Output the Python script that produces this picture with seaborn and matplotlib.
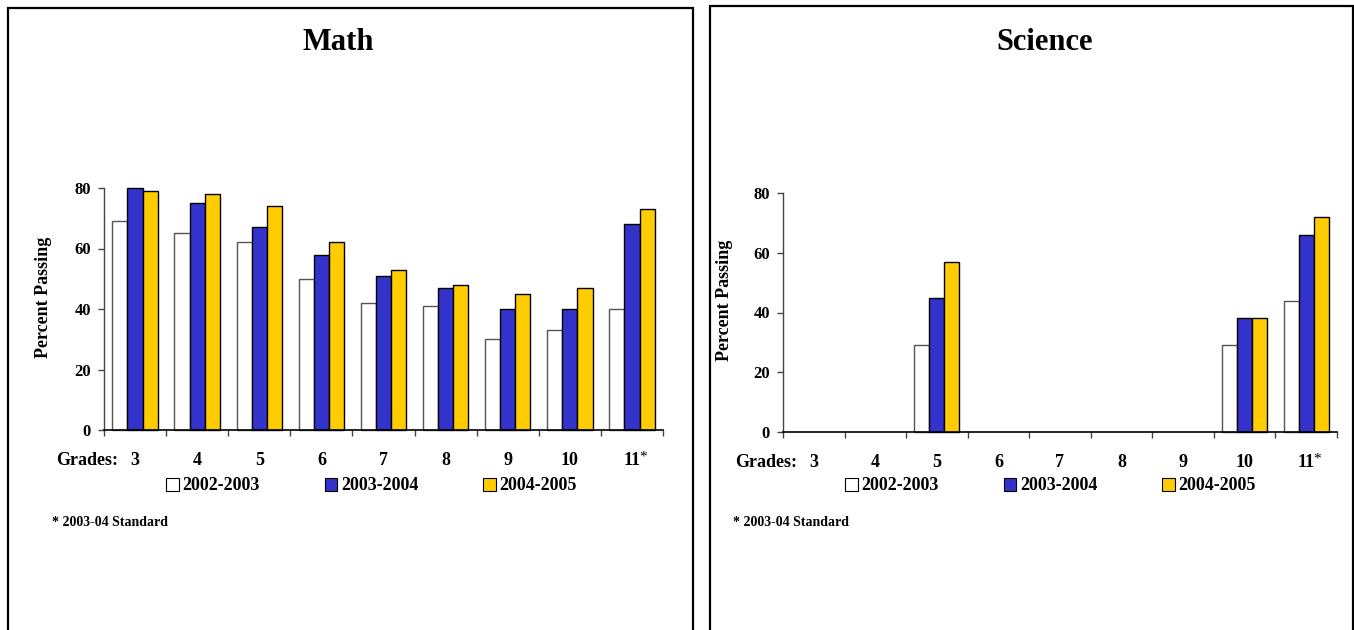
import numpy as np
import pandas as pd
import matplotlib
matplotlib.use("Agg")
import matplotlib.pyplot as plt
from matplotlib.patches import Rectangle, Patch
from matplotlib.transforms import ScaledTranslation
import seaborn as sns

# ---- data ----
grades = ["3", "4", "5", "6", "7", "8", "9", "10", "11"]
starred_grade = "11"
years = ["2002-2003", "2003-2004", "2004-2005"]
year_colors = ["#FFFFFF", "#3333CC", "#FFCC00"]

math_2002_03 = [69, 65, 62, 50, 42, 41, 30, 33, 40]
math_2003_04 = [80, 75, 67, 58, 51, 47, 40, 40, 68]
math_2004_05 = [79, 78, 74, 62, 53, 48, 45, 47, 73]

nan = np.nan
sci_2002_03 = [nan, nan, 29, nan, nan, nan, nan, 29, 44]
sci_2003_04 = [nan, nan, 45, nan, nan, nan, nan, 38, 66]
sci_2004_05 = [nan, nan, 57, nan, nan, nan, nan, 38, 72]

y_ticks = [0, 20, 40, 60, 80]
footnote = "* 2003-04 Standard"


def long_frame(series):
    rows = []
    for year, vals in zip(years, series):
        for g, v in zip(grades, vals):
            rows.append({"grade": g, "year": year, "pct": v})
    return pd.DataFrame(rows)


math_df = long_frame([math_2002_03, math_2003_04, math_2004_05])
sci_df = long_frame([sci_2002_03, sci_2003_04, sci_2004_05])

# ---- style ----
sns.set_style("white")
plt.rcParams["font.family"] = ["Liberation Serif", "DejaVu Serif"]
plt.rcParams["font.weight"] = "bold"
for key in ("text.color", "axes.labelcolor", "xtick.color", "ytick.color"):
    plt.rcParams[key] = "black"

W, H = 1354, 630
fig = plt.figure(figsize=(W / 100, H / 100), dpi=100)
fig.patch.set_facecolor("white")

TICK_PAD = 16


def px_rect(x0, y_top, x1, y_bottom):
    return [x0 / W, 1 - y_bottom / H, (x1 - x0) / W, (y_bottom - y_top) / H]


def draw_panel(df, axes_px, title, title_x, legend_x, foot_x, ylabel_x):
    ax = fig.add_axes(px_rect(*axes_px))
    sns.barplot(data=df, x="grade", y="pct", hue="year", order=grades,
                hue_order=years, palette=year_colors, saturation=1,
                width=0.73, gap=0, errorbar=None, edgecolor="black",
                linewidth=1.0, legend=False, ax=ax)
    for bar in ax.containers[0]:
        bar.set_edgecolor("#555555")
    for p in ax.patches:
        p.set_clip_on(False)

    ax.set_xlim(-0.5, len(grades) - 0.5)
    ax.set_ylim(0, 80)
    ax.set_yticks(y_ticks)
    ax.set_xticks(range(len(grades)))
    ax.set_xticklabels(grades, fontsize=13, fontweight="bold")
    ax.set_xticks(np.arange(-0.5, len(grades), 1.0), minor=True)
    ax.tick_params(axis="x", which="major", length=0, pad=TICK_PAD)
    ax.tick_params(axis="x", which="minor", bottom=True, length=4.5,
                   width=1, color="#444444", direction="out")
    ax.tick_params(axis="y", which="major", left=True, length=4.5, width=1,
                   color="#444444", direction="out", pad=5, labelsize=12)
    for lab in ax.get_yticklabels():
        lab.set_fontweight("bold")

    for side in ("top", "right"):
        ax.spines[side].set_visible(False)
    ax.spines["left"].set_color("#444444")
    ax.spines["bottom"].set_color("black")
    ax.spines["left"].set_linewidth(1)
    ax.spines["bottom"].set_linewidth(1.2)

    ax.set_xlabel("")
    ax.set_ylabel("Percent Passing", fontsize=13, fontweight="bold")
    ax.yaxis.set_label_coords(ylabel_x, 0.55)

    off = ScaledTranslation(0, -TICK_PAD / 72, fig.dpi_scale_trans)
    xform = ax.get_xaxis_transform() + off
    ax.text(-0.27, 0, "Grades:", transform=xform,
            ha="right", va="top", fontsize=13, fontweight="bold")
    # superscript asterisk after the last grade label
    star_off = ScaledTranslation(5.2 / 72, -(TICK_PAD - 1) / 72,
                                 fig.dpi_scale_trans)
    ax.text(grades.index(starred_grade), 0, "*",
            transform=ax.get_xaxis_transform() + star_off,
            ha="left", va="top", fontsize=11, fontweight="normal")

    fig.text(title_x / W, 1 - 43 / H, title, ha="center", va="center",
             fontsize=22, fontweight="bold")

    handles = [Patch(facecolor=c, edgecolor="black", linewidth=0.8)
               for c in year_colors]
    fig.legend(handles, years, loc="center left",
               bbox_to_anchor=(legend_x / W, 1 - 486 / H), ncol=3,
               frameon=False, borderpad=0, borderaxespad=0,
               handlelength=0.7, handleheight=0.7, handletextpad=0.2,
               columnspacing=3.6,
               prop={"size": 13, "weight": "bold"})

    fig.text(foot_x / W, 1 - 522 / H, footnote, ha="left", va="center",
             fontsize=10, fontweight="bold")
    return ax


draw_panel(math_df, (104, 188, 663, 430), "Math", 338, 166, 52, -0.093)
draw_panel(sci_df, (783, 193, 1337, 432), "Science", 1045, 845, 733, -0.09)

# panel borders
for x0, x1, top in ((8, 693, 8), (710, 1353, 6)):
    fig.add_artist(Rectangle((x0 / W, -0.1), (x1 - x0) / W,
                             1 - top / H + 0.1, transform=fig.transFigure,
                             fill=False, edgecolor="black", linewidth=1.6))

fig.savefig("out.png", dpi=100, facecolor="white")
